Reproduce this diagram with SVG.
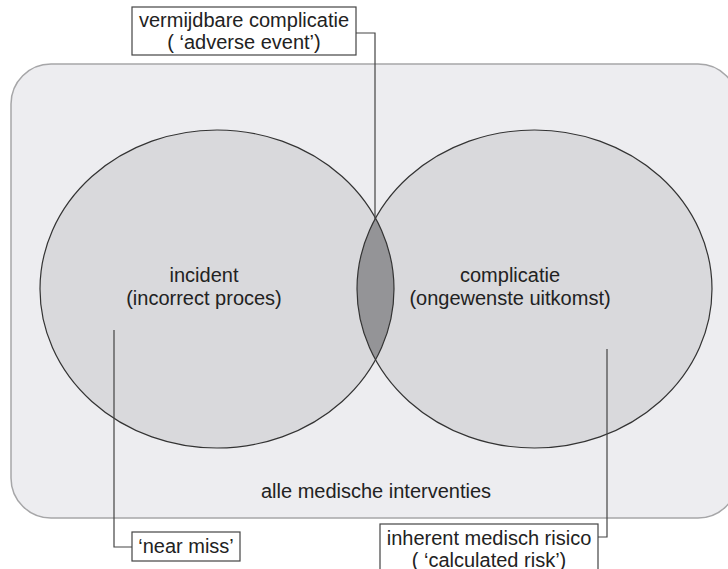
<svg xmlns="http://www.w3.org/2000/svg" width="728" height="569" viewBox="0 0 728 569">
  <style>
    text { font-family: "Liberation Sans", Arial, sans-serif; font-size: 20px; fill: #222; text-anchor: middle; }
    .area { fill: #ededf0; stroke: #a6a6a8; stroke-width: 1.5; }
    .set { fill: #d9d9dc; }
    .outline { fill: none; stroke: #333; stroke-width: 1.2; }
    .overlap { fill: #949497; }
    .label-box { fill: #fff; stroke: #444; stroke-width: 1.2; }
    .leader { fill: none; stroke: #444; stroke-width: 1.2; }
  </style>
  <defs>
    <clipPath id="clip-right">
      <ellipse cx="534.5" cy="289" rx="177.5" ry="159"/>
    </clipPath>
  </defs>

  <!-- universe: all medical interventions -->
  <g id="universe">
    <rect class="area" x="11" y="64" width="727" height="454" rx="40" ry="40"/>
    <text x="376" y="498">alle medische interventies</text>
  </g>

  <!-- set: incident -->
  <g id="incident">
    <ellipse class="set" cx="217" cy="289" rx="177" ry="159"/>
  </g>

  <!-- set: complicatie -->
  <g id="complicatie">
    <ellipse class="set" cx="534.5" cy="289" rx="177.5" ry="159"/>
  </g>

  <!-- overlap of both sets -->
  <g id="overlap">
    <ellipse class="overlap" cx="217" cy="289" rx="177" ry="159" clip-path="url(#clip-right)"/>
  </g>

  <!-- set outlines -->
  <g id="outlines">
    <ellipse class="outline" cx="217" cy="289" rx="177" ry="159"/>
    <ellipse class="outline" cx="534.5" cy="289" rx="177.5" ry="159"/>
  </g>

  <g id="incident-label">
    <text x="204" y="282">incident</text>
    <text x="204" y="305">(incorrect proces)</text>
  </g>
  <g id="complicatie-label">
    <text x="510" y="282">complicatie</text>
    <text x="510" y="305">(ongewenste uitkomst)</text>
  </g>

  <!-- leader lines -->
  <g id="connectors">
    <polyline class="leader" points="356,33 375,33 375,220"/>
    <polyline class="leader" points="114,330 114,547 132,547"/>
    <polyline class="leader" points="607,349 607,537 598,537"/>
  </g>

  <g id="adverse-event">
    <rect class="label-box" x="132" y="7" width="224" height="48"/>
    <text x="244" y="27">vermijdbare complicatie</text>
    <text x="244" y="49">( ‘adverse event’)</text>
  </g>

  <g id="near-miss">
    <rect class="label-box" x="132" y="532" width="108" height="29"/>
    <text x="186" y="553">‘near miss’</text>
  </g>

  <g id="calculated-risk">
    <rect class="label-box" x="380" y="524" width="218" height="52"/>
    <text x="489" y="545">inherent medisch risico</text>
    <text x="489" y="567">( ‘calculated risk’)</text>
  </g>
</svg>
